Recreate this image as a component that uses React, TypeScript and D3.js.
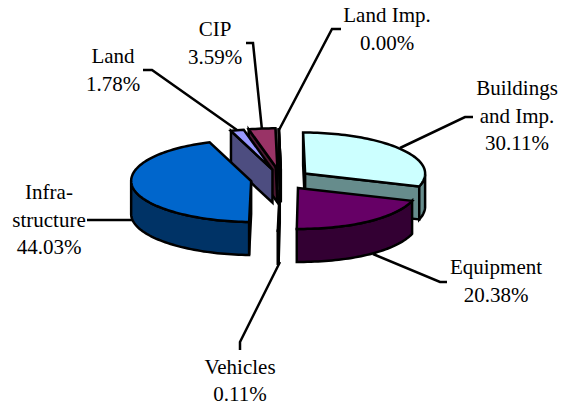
import React from 'react';
import * as d3 from 'd3';

// pie order is clockwise from 12 o'clock
const categories = ['Buildings and Imp.', 'Equipment', 'Vehicles', 'Infrastructure', 'Land', 'CIP', 'Land Imp.'];
const percents = [30.11, 20.38, 0.11, 44.03, 1.78, 3.59, 0.0];
const topColors = ['#ccffff', '#660066', '#ff8080', '#0066cc', '#9999ff', '#993366', '#ffffcc'];
const sideColors = ['#668c8c', '#330033', '#804040', '#003366', '#4d4d80', '#4d1933', '#808066'];
// back to front
const drawOrder = ['CIP', 'Land', 'Land Imp.', 'Buildings and Imp.', 'Infrastructure', 'Vehicles', 'Equipment'];

const labelLines = [
  ['Buildings', 'and Imp.', '30.11%'],
  ['Equipment', '20.38%'],
  ['Vehicles', '0.11%'],
  ['Infra-', 'structure', '44.03%'],
  ['Land', '1.78%'],
  ['CIP', '3.59%'],
  ['Land Imp.', '0.00%'],
];
const labelX = [517, 496, 240, 49, 113, 215, 387];
const labelY = [95, 274, 373.5, 199, 63, 36, 22];
const lineGap = 27.7;

const leaders: [number, number][][] = [
  [[400, 148], [465, 117], [473, 117]],
  [[373, 254], [440, 282], [447, 282]],
  [[280, 262], [240, 342], [240, 350]],
  [[134, 220], [87, 220]],
  [[237, 130], [152, 70], [143, 70]],
  [[262, 130], [253, 43], [246, 43]],
  [[279, 130], [332, 29], [341, 29]],
];

const width = 564;
const height = 406;
const centerX = 280.8;
const centerY = 179.5;
const radiusX = 120;
const radiusY = 41;
const explode = 30;
const depth = 33;
// the ellipse is not quite square to the page: back leans left, front leans right
const leanBack = 2;
const leanFront = 2.5;

const TAU = Math.PI * 2;

const unitX = d3.scaleLinear().domain([-1, 1]).range([-radiusX, radiusX]);
const unitY = d3.scaleLinear().domain([-1, 1]).range([-radiusY, radiusY]);

const pie = d3.pie<number>().sort(null).value(d => d).startAngle(0).endAngle(TAU);
const arcs = pie(percents);
const lineGen = d3.line<[number, number]>().curve(d3.curveLinearClosed);

const App = () => {
  const slices = arcs.map((a, i) => {
    const mid = (a.startAngle + a.endAngle) / 2;
    const cx = centerX + explode * Math.sin(mid);
    const cy = centerY - (explode * Math.cos(mid) * radiusY) / radiusX;

    const point = (ang: number, r = 1, drop = 0): [number, number] => {
      const dy = unitY(-Math.cos(ang) * r);
      const shift = (dy < 0 ? -leanBack : leanFront) * (dy / radiusY) ** 2;
      return [cx + unitX(Math.sin(ang) * r) + shift, cy + dy + drop];
    };

    const steps = Math.max(2, Math.ceil((a.endAngle - a.startAngle) / 0.03));
    const angles = d3.range(steps + 1).map(k => a.startAngle + ((a.endAngle - a.startAngle) * k) / steps);

    const top = lineGen([point(0, 0), ...angles.map(t => point(t))]);

    const walls: string[] = [];
    // radial walls, only the ones that face the viewer
    if (-Math.sin(a.startAngle) >= -1e-9) {
      walls.push(lineGen([point(0, 0), point(a.startAngle), point(a.startAngle, 1, depth), point(0, 0, depth)]) as string);
    }
    if (Math.sin(a.endAngle) >= -1e-9) {
      walls.push(lineGen([point(0, 0), point(a.endAngle), point(a.endAngle, 1, depth), point(0, 0, depth)]) as string);
    }
    // rim, front half only
    const front = angles.filter(t => Math.cos(t) <= 0);
    if (front.length > 1) {
      walls.push(lineGen([...front.map(t => point(t)), ...front.slice().reverse().map(t => point(t, 1, depth))]) as string);
    }
    return { name: categories[i], top, walls, topFill: topColors[i], sideFill: sideColors[i] };
  });

  const ordered = drawOrder.map(name => slices.find(s => s.name === name)!);
  const leaderLine = d3.line<[number, number]>();

  return (
    <svg
      width={width}
      height={height}
      style={{ position: 'absolute', left: 0, top: 0, background: '#fff' }}
      fontFamily="'Liberation Serif', serif"
      fontSize={21}
    >
      {leaders.map((pts, i) => (
        <path key={i} d={leaderLine(pts) as string} fill="none" stroke="#000" strokeWidth={2.5} />
      ))}
      {ordered.map(s => (
        <g key={s.name} stroke="#000" strokeWidth={2.5} strokeLinejoin="miter">
          {s.walls.map((d, j) => (
            <path key={j} d={d} fill={s.sideFill} />
          ))}
          <path d={s.top as string} fill={s.topFill} />
        </g>
      ))}
      {labelLines.map((lines, i) => (
        <text key={i} x={labelX[i]} y={labelY[i]} textAnchor="middle" fill="#000">
          {lines.map((line, j) => (
            <tspan key={j} x={labelX[i]} dy={j === 0 ? 0 : lineGap}>
              {line}
            </tspan>
          ))}
        </text>
      ))}
    </svg>
  );
};

export default App;
